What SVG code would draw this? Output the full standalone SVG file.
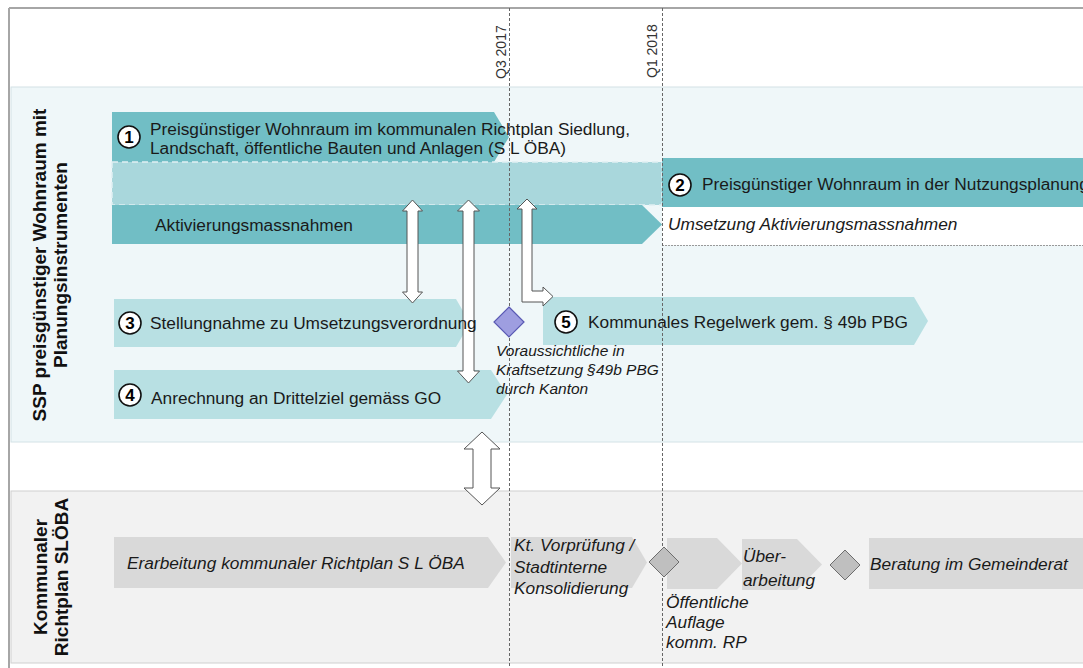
<svg xmlns="http://www.w3.org/2000/svg" width="1083" height="668" viewBox="0 0 1083 668">
<style>
text{font-family:"Liberation Sans",Arial,sans-serif;fill:#1a1a1a}
.t{font-size:17.3px}
.i{font-size:17.3px;font-style:italic}
.a{font-size:15.5px;font-style:italic}
.lbl{font-size:19px;font-weight:bold;fill:#111}
.q{font-size:14px;fill:#333}
.num{font-size:17px;font-weight:bold;fill:#000}
.dark{fill:#71bec5}
.light{fill:#b8e0e3}
.gray{fill:#d9d9d9}
.circ{fill:#fff;stroke:#111;stroke-width:1.6}
.tl{stroke:#666;stroke-width:1;stroke-dasharray:3,2;fill:none}
.arr{fill:#fff;stroke:#555;stroke-width:1}
.dg{fill:#bfbfbf;stroke:#6d6d6d;stroke-width:1}
</style>
<rect x="0" y="0" width="1083" height="668" fill="#fff"/>
<g id="frame">
<line x1="9" y1="8" x2="1083" y2="8" stroke="#a6a6a6" stroke-width="2"/>
<line x1="9" y1="8" x2="9" y2="668" stroke="#a6a6a6" stroke-width="2"/>
</g>
<g id="lane-ssp">
<rect x="11" y="87" width="1080" height="355" fill="#eff7f9" stroke="#d3e2e6" stroke-width="1"/>
<text class="lbl" text-anchor="middle" transform="translate(46,265) rotate(-90)">SSP preisgünstiger Wohnraum mit</text>
<text class="lbl" text-anchor="middle" transform="translate(67,265) rotate(-90)">Planungsinstrumenten</text>
</g>
<g id="lane-richtplan">
<rect x="11" y="491" width="1080" height="172" fill="#f2f2f2" stroke="#d0d0d0" stroke-width="1"/>
<text class="lbl" text-anchor="middle" transform="translate(47,577) rotate(-90)">Kommunaler</text>
<text class="lbl" text-anchor="middle" transform="translate(68,577) rotate(-90)">Richtplan SLÖBA</text>
</g>
<g id="node-1">
<path class="dark" d="M112,112 L494,112 L509,137 L494,162 L112,162 Z"/>
</g>
<g id="node-placeholder">
<rect x="112" y="162" width="550" height="43" fill="#a9d7dc" stroke="#dff0f2" stroke-width="1.5" stroke-dasharray="6,4"/>
</g>
<g id="node-2">
<rect class="dark" x="662" y="158" width="421" height="49"/>
</g>
<g id="node-aktiv">
<path class="dark" d="M112,205 L642,205 L662,224.5 L642,244 L112,244 Z"/>
</g>
<g id="node-umsetzung">
<rect x="662" y="207" width="421" height="38" fill="#fff"/>
<line x1="662" y1="245.5" x2="1083" y2="245.5" stroke="#999" stroke-width="1" stroke-dasharray="2,1"/>
</g>
<g id="node-3">
<path class="light" d="M114,299 L456,299 L470,323 L456,347 L114,347 Z"/>
</g>
<g id="node-4">
<path class="light" d="M114,370 L491,370 L507,394.5 L491,419 L114,419 Z"/>
</g>
<g id="node-5">
<path class="light" d="M543,297 L914,297 L928,321 L914,345 L543,345 Z"/>
</g>
<g id="node-erarbeitung">
<path class="gray" d="M114,537 L488,537 L506,562.5 L488,588 L114,588 Z"/>
</g>
<g id="node-vorpruefung">
<path class="gray" d="M511,537 L632,537 L647,562.5 L632,588 L511,588 Z"/>
</g>
<g id="node-auflage">
<path class="gray" d="M667,538 L717,538 L742,563.5 L717,589 L667,589 Z"/>
</g>
<g id="node-ueberarbeitung">
<path class="gray" d="M742,539 L797,539 L822,564.5 L797,590 L742,590 Z"/>
</g>
<g id="node-beratung">
<rect class="gray" x="869" y="538" width="214" height="51"/>
</g>
<g id="timeline">
<line class="tl" x1="509.5" y1="8" x2="509.5" y2="668"/>
<line class="tl" x1="662.5" y1="8" x2="662.5" y2="668"/>
<text class="q" transform="translate(506,79) rotate(-90)">Q3 2017</text>
<text class="q" transform="translate(657,78) rotate(-90)">Q1 2018</text>
</g>
<g id="milestone-kanton">
<path d="M509,307 L524,322 L509,337 L494,322 Z" fill="#9e9ee0" stroke="#5a5ab4" stroke-width="1.2"/>
<text class="a" x="496" y="356">Voraussichtliche in</text>
<text class="a" x="496" y="375">Kraftsetzung §49b PBG</text>
<text class="a" x="496" y="394">durch Kanton</text>
</g>
<g id="milestone-auflage">
<path class="dg" d="M664,547 L679,562 L664,577 L649,562 Z"/>
</g>
<g id="milestone-beratung">
<path class="dg" d="M845,550 L860,565 L845,580 L830,565 Z"/>
</g>
<g id="connectors">
<path class="arr" d="M412.5,200 L422.5,211 L418,211 L418,292 L422.5,292 L412.5,303 L402.5,292 L407,292 L407,211 L402.5,211 Z"/>
<path class="arr" d="M468.5,200 L479.5,211 L474,211 L474,371 L479.5,371 L468.5,383 L457.5,371 L463,371 L463,211 L457.5,211 Z"/>
<path class="arr" d="M527,199 L537,209 L532,209 L532,291 L543,291 L543,287 L553,296.5 L543,306 L543,302 L522,302 L522,209 L517,209 Z"/>
<path class="arr" d="M482,432 L500,449 L491,449 L491,488 L500,488 L482,505 L464,488 L473,488 L473,449 L464,449 Z"/>
</g>
<g id="labels">
<circle class="circ" cx="129" cy="137" r="11"/>
<text class="num" x="129" y="143" text-anchor="middle">1</text>
<text class="t" x="150" y="135">Preisgünstiger Wohnraum im kommunalen Richtplan Siedlung,</text>
<text class="t" x="150" y="154">Landschaft, öffentliche Bauten und Anlagen (S L ÖBA)</text>
<circle class="circ" cx="680" cy="185" r="11"/>
<text class="num" x="680" y="191" text-anchor="middle">2</text>
<text class="t" x="702" y="190">Preisgünstiger Wohnraum in der Nutzungsplanung</text>
<text class="t" x="155" y="231">Aktivierungsmassnahmen</text>
<text class="i" x="668" y="230">Umsetzung Aktivierungsmassnahmen</text>
<circle class="circ" cx="130" cy="323" r="11"/>
<text class="num" x="130" y="329" text-anchor="middle">3</text>
<text class="t" x="150" y="329">Stellungnahme zu Umsetzungsverordnung</text>
<circle class="circ" cx="130" cy="395" r="11"/>
<text class="num" x="130" y="401" text-anchor="middle">4</text>
<text class="t" x="151" y="404">Anrechnung an Drittelziel gemäss GO</text>
<circle class="circ" cx="566" cy="322" r="11"/>
<text class="num" x="566" y="328" text-anchor="middle">5</text>
<text class="t" x="588" y="328">Kommunales Regelwerk gem. § 49b PBG</text>
<text class="i" x="127" y="569">Erarbeitung kommunaler Richtplan S L ÖBA</text>
<text class="i" x="514" y="551">Kt. Vorprüfung /</text>
<text class="i" x="514" y="573">Stadtinterne</text>
<text class="i" x="514" y="594">Konsolidierung</text>
<text class="i" x="666" y="608">Öffentliche</text>
<text class="i" x="666" y="628">Auflage</text>
<text class="i" x="666" y="648">komm. RP</text>
<text class="i" x="743" y="562">Über-</text>
<text class="i" x="743" y="586">arbeitung</text>
<text class="i" x="870" y="570">Beratung im Gemeinderat</text>
</g>
</svg>
